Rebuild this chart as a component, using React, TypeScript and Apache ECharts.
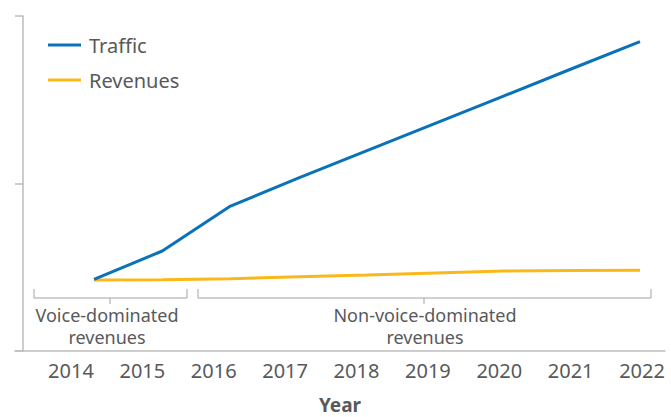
import React, { useEffect, useRef } from "react";
import * as echarts from "echarts";

const years = ["2014", "2015", "2016", "2017", "2018", "2019", "2020", "2021", "2022"];
const traffic = [0.427, 0.597, 0.865, 1.033, 1.196, 1.359, 1.522, 1.685, 1.847];
const revenues = [0.424, 0.426, 0.432, 0.443, 0.454, 0.466, 0.478, 0.48, 0.482];
const seriesNames = ["Traffic", "Revenues"];
const phaseLabels = ["Voice-dominated\nrevenues", "Non-voice-dominated\nrevenues"];

const BLUE = "#0a72b9";
const YELLOW = "#fbb81a";
const TEXT = "#58595b";
const AXIS = "#bdbdbd";
const BRACKET = "#a3a3a3";
const FONT = "'Noto Sans', sans-serif";

export default function App() {
  const ref = useRef<HTMLDivElement>(null);
  useEffect(() => {
    if (!ref.current) return;
    const chart = echarts.init(ref.current, undefined, { renderer: "svg" });
    const bracket = (x1: number, x2: number, xm: number) => ({
      type: "group",
      children: [
        {
          type: "polyline",
          shape: { points: [[x1, 289], [x1, 298], [x2, 298], [x2, 289]] },
          style: { stroke: BRACKET, lineWidth: 1, fill: "none" },
        },
        {
          type: "line",
          shape: { x1: xm, y1: 298, x2: xm, y2: 304 },
          style: { stroke: BRACKET, lineWidth: 1 },
        },
      ],
    });
    chart.setOption({
      animation: false,
      textStyle: { fontFamily: FONT },
      grid: [
        { left: 15, right: 6, top: 16, bottom: 66, containLabel: false, outerBoundsMode: "none" },
        { left: 94, right: 31, top: 16, bottom: 66, containLabel: false, outerBoundsMode: "none" },
      ],
      legend: {
        orient: "vertical",
        left: 48,
        top: 35,
        padding: 0,
        icon: "rect",
        itemWidth: 33,
        itemHeight: 3,
        itemGap: 15,
        data: seriesNames,
        textStyle: { fontSize: 20, color: TEXT, fontFamily: FONT, padding: [0, 0, 0, 3] },
      },
      xAxis: [
        {
          type: "value",
          gridIndex: 0,
          position: "bottom",
          min: 2013.216,
          max: 2022.322,
          splitNumber: 9,
          minInterval: 1,
          maxInterval: 1,
          axisLine: { show: true, onZero: false, lineStyle: { color: AXIS, width: 1.5 } },
          axisTick: { show: false },
          splitLine: { show: false },
          axisLabel: {
            showMinLabel: false,
            showMaxLabel: false,
            fontSize: 20,
            color: TEXT,
            fontFamily: FONT,
            margin: 9,
            formatter: (v: number) => (Number.isInteger(v) ? String(v) : ""),
          },
          name: "Year",
          nameLocation: "middle",
          nameGap: 44,
          nameMoveOverlap: false,
          nameTextStyle: {
            fontSize: 19,
            lineHeight: 19,
            fontWeight: "bold",
            color: TEXT,
            fontFamily: FONT,
          },
        },
        {
          type: "category",
          gridIndex: 1,
          data: years,
          boundaryGap: false,
          show: false,
        },
      ],
      yAxis: [
        { type: "value", gridIndex: 0, show: false, min: 0, max: 2 },
        {
          type: "value",
          gridIndex: 1,
          min: 0,
          max: 2,
          interval: 1,
          offset: 71,
          axisLine: { show: true, onZero: false, lineStyle: { color: AXIS, width: 1.5 } },
          axisTick: { show: true, length: 8, lineStyle: { color: AXIS, width: 1.5 } },
          axisLabel: { show: false },
          splitLine: { show: false },
        },
      ],
      series: [
        {
          name: seriesNames[0],
          type: "line",
          xAxisIndex: 1,
          yAxisIndex: 1,
          data: traffic,
          symbol: "none",
          color: BLUE,
          lineStyle: { width: 3, color: BLUE },
          z: 3,
        },
        {
          name: seriesNames[1],
          type: "line",
          xAxisIndex: 1,
          yAxisIndex: 1,
          data: revenues,
          symbol: "none",
          color: YELLOW,
          lineStyle: { width: 3, color: YELLOW },
          z: 2,
        },
      ],
      graphic: [
        bracket(34, 187, 110),
        bracket(198, 651, 424),
        {
          type: "text",
          x: 107,
          y: 304,
          style: {
            text: phaseLabels[0],
            fontSize: 18,
            lineHeight: 22,
            fill: TEXT,
            fontFamily: FONT,
            align: "center",
            verticalAlign: "top",
          },
        },
        {
          type: "text",
          x: 425,
          y: 304,
          style: {
            text: phaseLabels[1],
            fontSize: 18,
            lineHeight: 22,
            fill: TEXT,
            fontFamily: FONT,
            align: "center",
            verticalAlign: "top",
          },
        },
      ],
    });
    return () => chart.dispose();
  }, []);
  return <div ref={ref} style={{ width: 671, height: 417, position: "absolute", left: 0, top: 0 }} />;
}
